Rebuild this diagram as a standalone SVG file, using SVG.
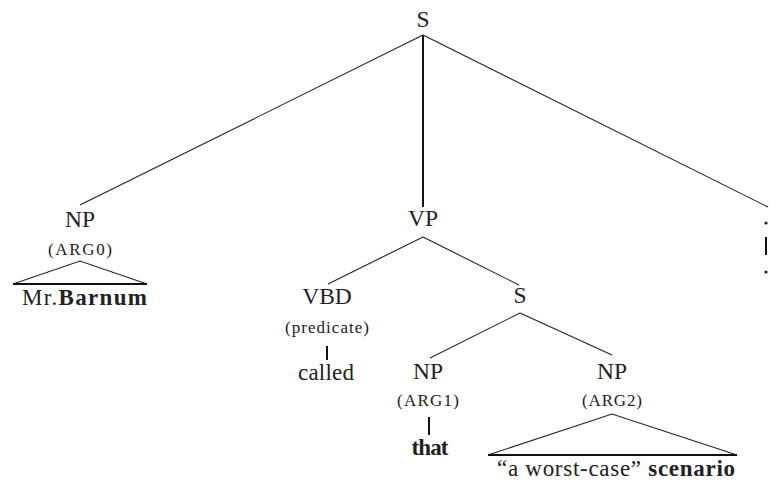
<svg xmlns="http://www.w3.org/2000/svg" width="769" height="481" viewBox="0 0 769 481">
<style>
text{font-family:"Liberation Serif","DejaVu Serif","Times New Roman",Times,serif;fill:#222;text-anchor:middle}
.lbl{font-size:23.5px}
.role{font-size:17px}
.word{font-size:23px}
.b{font-weight:bold}
.e{stroke:#222;stroke-width:1.1;fill:none}
.t{stroke:#111;stroke-width:2;fill:none}
</style>
<rect width="769" height="481" fill="#fff"/>
<g id="connectors">
<line class="e" x1="423" y1="35" x2="80" y2="205"/>
<line class="t" x1="423" y1="35" x2="423" y2="207"/>
<line class="e" x1="423" y1="35" x2="768" y2="207"/>
<line class="e" x1="423" y1="237" x2="328" y2="284"/>
<line class="e" x1="423" y1="237" x2="519" y2="285"/>
<line class="e" x1="520" y1="313" x2="430" y2="358"/>
<line class="e" x1="520" y1="313" x2="612" y2="355"/>
<line class="t" x1="327" y1="346" x2="327" y2="360"/>
<line class="t" x1="429" y1="417" x2="429" y2="435"/>
<line class="t" x1="766" y1="237" x2="766" y2="255"/>
</g>
<g id="S"><text class="lbl" x="423" y="27">S</text></g>
<g id="NP0">
<text class="lbl" x="80" y="227">NP</text>
<text class="role" x="80" y="255" textLength="64">(ARG0)</text>
<path class="e" d="M13,284 L80,261 L147,284"/>
<line class="t" x1="13" y1="284" x2="147" y2="284"/>
<text class="word" x="84.5" y="305" textLength="125">Mr.<tspan class="b">Barnum</tspan></text>
</g>
<g id="VP"><text class="lbl" x="423" y="226">VP</text></g>
<g id="VBD">
<text class="lbl" x="327" y="304">VBD</text>
<text class="role" x="327" y="333" textLength="84">(predicate)</text>
<text class="word" x="326" y="380" textLength="56">called</text>
</g>
<g id="S2"><text class="lbl" x="520" y="303">S</text></g>
<g id="NP1">
<text class="lbl" x="428" y="379">NP</text>
<text class="role" x="428" y="406" textLength="62">(ARG1)</text>
<text class="word b" x="430" y="455" textLength="37">that</text>
</g>
<g id="NP2">
<text class="lbl" x="612" y="379">NP</text>
<text class="role" x="612" y="406" textLength="60">(ARG2)</text>
<path class="e" d="M488,455 L612,414 L737,455"/>
<line class="t" x1="488" y1="455" x2="737" y2="455"/>
<text class="word" x="616" y="476" textLength="238">“a worst-case” <tspan class="b">scenario</tspan></text>
</g>
<g id="dots">
<circle cx="766" cy="223" r="1.6" fill="#222"/>
<circle cx="766" cy="272" r="1.6" fill="#222"/>
</g>
</svg>
